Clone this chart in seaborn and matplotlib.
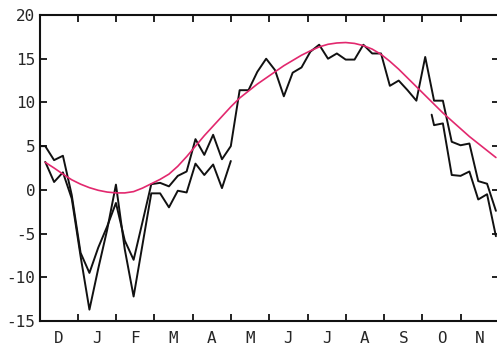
import numpy as np
import pandas as pd
import matplotlib
matplotlib.use("Agg")
import matplotlib.pyplot as plt
import seaborn as sns

# Weekly mean temperatures (deg C), year running December -> November.
# Positions are in weeks from the start of December.
week_offset = 0.65

# Series A: full year (one leading week before December)
temp_a = [5.0, 5.0, 3.4, 3.9, -0.6, -7.2, -9.5, -6.6, -4.2, -1.5, -5.8,
          -8.0, -3.7, 0.65, 0.8, 0.4, 1.6, 2.1, 5.8, 4.0, 6.3, 3.5, 5.0,
          11.4, 11.4, 13.5, 15.0, 13.7, 10.7, 13.4, 14.0, 15.8, 16.6,
          15.0, 15.6, 14.9, 14.9, 16.6, 15.6, 15.6, 11.9, 12.5, 11.4,
          10.2, 15.2, 10.2, 10.2, 5.5, 5.1, 5.3, 1.0, 0.7, -2.4]
weeks_a = np.arange(-1, 52) + week_offset

# Series B: winter/spring part
temp_b1 = [3.2, 0.9, 2.0, -1.0, -7.6, -13.7, -9.0, -4.6, 0.6, -6.8, -12.2,
           -6.3, -0.4, -0.4, -2.0, -0.1, -0.3, 3.0, 1.7, 2.9, 0.2, 3.3]
weeks_b1 = np.arange(0, 22) + week_offset

# Series B: autumn part
temp_b2 = [8.6, 7.4, 7.6, 1.7, 1.6, 2.1, -1.1, -0.5, -5.3]
weeks_b2 = [44.38] + list(np.arange(44, 52) + week_offset)

# Long-term mean annual cycle
temp_mean = [3.15, 2.5, 1.8, 1.15, 0.65, 0.25, -0.05, -0.25, -0.35, -0.35,
             -0.2, 0.2, 0.7, 1.2, 1.8, 2.7, 3.8, 5.0, 6.2, 7.3, 8.4, 9.5,
             10.5, 11.3, 12.1, 12.8, 13.5, 14.2, 14.8, 15.4, 15.9, 16.35,
             16.65, 16.8, 16.85, 16.75, 16.5, 16.1, 15.5, 14.7, 13.8, 12.8,
             11.8, 10.8, 9.8, 8.8, 7.9, 7.0, 6.1, 5.3, 4.5, 3.7]
weeks_mean = np.arange(0, 52) + week_offset

months = ["D", "J", "F", "M", "A", "M", "J", "J", "A", "S", "O", "N"]
y_ticks = [-15, -10, -5, 0, 5, 10, 15, 20]

sns.set_style("ticks")
plt.rcParams["font.family"] = ["DejaVu Sans Mono"]
plt.rcParams["axes.unicode_minus"] = False

fig = plt.figure(figsize=(4.97, 3.48), dpi=100)
ax = fig.add_axes([39.5 / 497, 27 / 348, 459.5 / 497, 306 / 348])

df_a = pd.DataFrame({"week": weeks_a, "temp": temp_a})
df_b1 = pd.DataFrame({"week": weeks_b1, "temp": temp_b1})
df_b2 = pd.DataFrame({"week": weeks_b2, "temp": temp_b2})
df_m = pd.DataFrame({"week": weeks_mean, "temp": temp_mean})

line_kw = dict(color="#111111", linewidth=1.4, sort=False, estimator=None)
sns.lineplot(data=df_a, x="week", y="temp", ax=ax, **line_kw)
sns.lineplot(data=df_b1, x="week", y="temp", ax=ax, **line_kw)
sns.lineplot(data=df_b2, x="week", y="temp", ax=ax, **line_kw)
sns.lineplot(data=df_m, x="week", y="temp", ax=ax, color="#e2286e",
             linewidth=1.2, sort=False, estimator=None)

weeks_per_month = 52 / 12
ax.set_xlim(0, 52)
ax.set_ylim(-15, 20)
ax.set_xticks([i * weeks_per_month for i in range(1, 12)])
ax.set_xticklabels([])
ax.set_xticks([(i + 0.5) * weeks_per_month for i in range(12)], minor=True)
ax.set_xticklabels(months, minor=True)
ax.set_yticks(y_ticks)
ax.set_yticklabels([str(v) for v in y_ticks])
ax.set_xlabel("")
ax.set_ylabel("")

ax.tick_params(which="major", direction="in", top=True, right=True,
               length=5, width=1.3, labelsize=11.5, pad=3, color="#111111")
ax.tick_params(axis="x", which="minor", length=0, pad=7, labelsize=11.5)
ax.tick_params(axis="x", which="major", labelbottom=False)

for side in ["left", "right", "top", "bottom"]:
    ax.spines[side].set_visible(True)
    ax.spines[side].set_linewidth(1.5)
    ax.spines[side].set_color("#111111")

fig.savefig("out.png", dpi=100)
